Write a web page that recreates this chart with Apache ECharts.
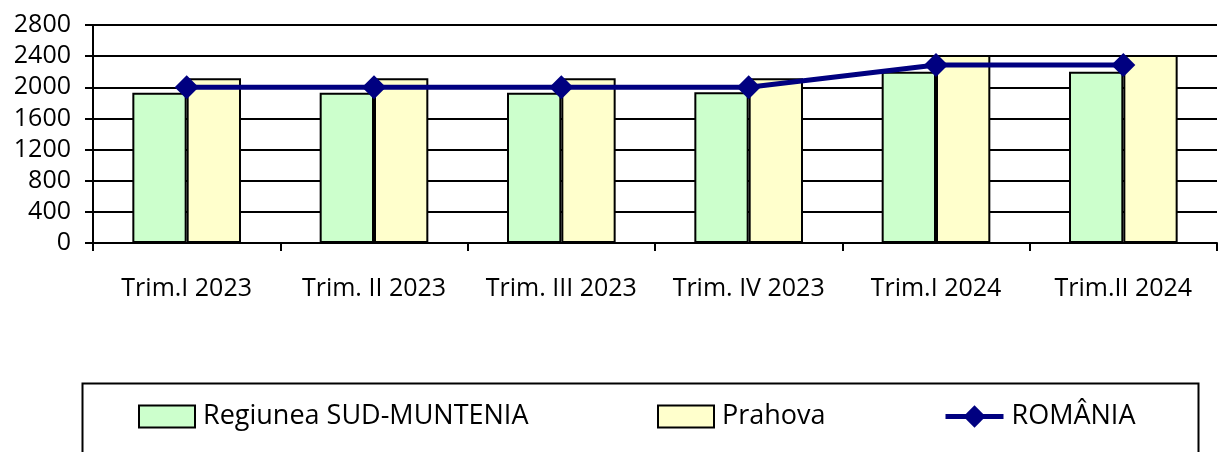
<!DOCTYPE html>
<html><head><meta charset="utf-8">
<script src="https://cdn.jsdelivr.net/npm/echarts@6/dist/echarts.min.js"></script>
<style>html,body{margin:0;padding:0;background:#fff}#c{width:1219px;height:452px}</style>
</head><body><div id="c"></div>
<script>
const categories = ['Trim.I 2023', 'Trim. II 2023', 'Trim. III 2023', 'Trim. IV 2023', 'Trim.I 2024', 'Trim.II 2024'];
const sudMuntenia = [1930, 1930, 1930, 1935, 2200, 2200];
const prahova = [2115, 2115, 2115, 2115, 2415, 2415];
const romania = [2000, 2000, 2000, 2000, 2285, 2285];
const yTicks = {min: 0, max: 2800, interval: 400};
const seriesNames = ['Regiunea SUD-MUNTENIA', 'Prahova', 'ROMÂNIA'];

const FONT = 'Open Sans';
const chart = echarts.init(document.getElementById('c'), null, {renderer: 'canvas'});
const legendText = {fontFamily: FONT, fontSize: 27, color: '#000', padding: [0, 0, 0, 3]};
chart.setOption({
  animation: false,
  backgroundColor: '#fff',
  grid: {left: 93, right: 2, top: 25, bottom: 209, containLabel: false},
  xAxis: {
    type: 'category', data: categories, boundaryGap: true,
    axisLine: {lineStyle: {color: '#000', width: 2}},
    axisTick: {show: true, length: 8, lineStyle: {color: '#000', width: 2}},
    axisLabel: {fontFamily: FONT, fontSize: 25, color: '#000', margin: 33, interval: 0}
  },
  yAxis: {
    type: 'value', min: yTicks.min, max: yTicks.max, interval: yTicks.interval,
    axisLine: {show: true, lineStyle: {color: '#000', width: 2}},
    axisTick: {show: true, length: 8, lineStyle: {color: '#000', width: 2}},
    splitLine: {lineStyle: {color: '#000', width: 2}},
    axisLabel: {fontFamily: FONT, fontSize: 25, color: '#000', margin: 22, formatter: v => String(v)}
  },
  legend: [
    {data: [{name: seriesNames[0], icon: 'rect'}], left: 138, top: 403, itemWidth: 56, itemHeight: 22, itemGap: 0, textStyle: legendText, padding: 0},
    {data: [{name: seriesNames[1], icon: 'rect'}], left: 657, top: 403, itemWidth: 56, itemHeight: 22, itemGap: 0, textStyle: legendText, padding: 0},
    {data: [seriesNames[2]], left: 943, top: 403, itemWidth: 58, itemHeight: 28, itemGap: 0, textStyle: legendText, padding: 0,
     lineStyle: {width: 5, color: '#000080'}, itemStyle: {color: '#000080'}}
  ],
  graphic: [{type: 'rect', left: 80, top: 381, shape: {width: 1116, height: 100}, style: {fill: 'none', stroke: '#000', lineWidth: 2}, silent: true}],
  series: [
    {name: seriesNames[0], type: 'bar', data: sudMuntenia, barGap: '0%', barCategoryGap: '42%',
     itemStyle: {color: '#CCFFCC', borderColor: '#000', borderWidth: 2}},
    {name: seriesNames[1], type: 'bar', data: prahova, barGap: '0%', barCategoryGap: '42%',
     itemStyle: {color: '#FFFFCC', borderColor: '#000', borderWidth: 2}},
    {name: seriesNames[2], type: 'line', data: romania, symbol: 'diamond', symbolSize: 24,
     lineStyle: {color: '#000080', width: 5}, itemStyle: {color: '#000080'}, z: 5}
  ]
});
</script></body></html>
